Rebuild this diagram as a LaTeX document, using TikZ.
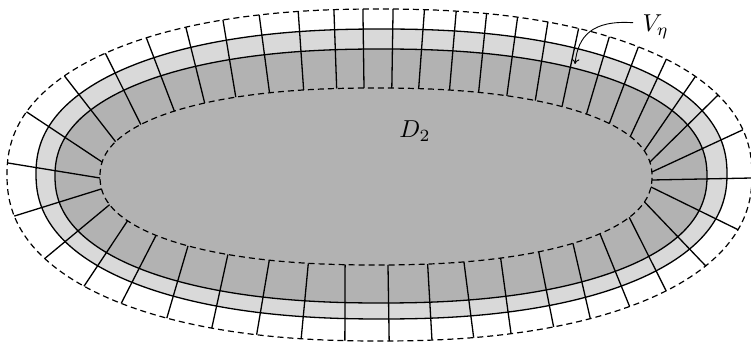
\documentclass[tikz,border=0pt]{standalone}
\usetikzlibrary{arrows.meta}
\newcommand{\myproj}[7]{%
  \pgfmathsetmacro\myU{(#1-#3)/#5}%
  \pgfmathsetmacro\myV{(#2-#4)/#6}%
  \pgfmathsetmacro\myS{exp(-ln(exp(2.25*ln(abs(\myU)+0.0001))+exp(2.25*ln(abs(\myV)+0.0001)))/2.25)}%
  \coordinate (#7) at ({#3+\myS*\myU*#5},{#4+\myS*\myV*#6});%
}
\tikzset{
  sell/.style n args={4}{insert path={plot[variable=\t,domain=0.5:360.5,samples=361]
    ({#1+#3*cos(\t)*exp(-0.1111*ln(abs(cos(\t))))},{#2+#4*sin(\t)*exp(-0.1111*ln(abs(sin(\t))))}) -- cycle}},
  bandline/.style={line width=1.3pt},
  dashline/.style={line width=1.2pt, dash pattern=on 6pt off 4pt},
  ray/.style={line width=1.3pt},
  lbl/.style={scale=2.45, inner sep=0pt},
}
\begin{document}
\begin{tikzpicture}[x=1pt,y=-1pt]
\useasboundingbox (0,0) rectangle (751,344);
% light band (outer solid)
\path[fill=black!15, sell={381.5}{174}{345.5}{145}];
\draw[bandline, sell={381.5}{174}{345.5}{145}];
% dark region (inner solid)
\path[fill=black!30, sell={381}{176}{326}{127}];
\draw[bandline, sell={381}{176}{326}{127}];
% inner dashed
\draw[dashline, sell={376}{176.5}{276}{88.5}];
% outer dashed
\draw[dashline, sell={379.5}{175}{372.5}{166}];
% radial lines
\foreach \ox/\oy/\ix/\iy [count=\k] in {
 33/113/102/162, 68/77/118/142, 107/54/143/125, 145/37/171/110,
 183/25/200/101, 220/17/232/95, 257/12/266/90, 298/11/302/88,
 334/10/336/87, 363/10/364/88, 393/10/392/87, 423/15/418/90,
 453/18/447/93, 481/22/473/97, 509/27/500/100, 538/31/528/104,
 567/37/553/110, 599/43/580/116, 628/52/603/125, 657/63/627/137,
 684/80/642/151, 714/96/651/162, 741/130/652/172, 752/178/652/180,
 740/230/651/187, 706/266/645/202, 664/290/627/217, 623/303/601/234,
 585/315/572/243, 548/322/537/251, 508/330/499/257, 471/333/464/262,
 431/337/427/263, 389/338/388/265, 345/340/345/265, 302/337/307/265,
 258/333/267/262, 213/327/227/255, 167/318/185/247, 120/304/150/237,
 82/287/121/222, 43/259/107/205, 15/216/100/189, 10/163/100/178}{
  \myproj{\ox}{\oy}{379.5}{175}{372.5}{166}{o\k}
  \myproj{\ix}{\iy}{376}{176.5}{276}{88.5}{i\k}
  \draw[ray] (i\k) -- (o\k);
}
% labels
\node[lbl] (d2) at (415,131) {$D_2$};
\node[lbl, anchor=base west] (veta) at (642,31.7) {$V_\eta$};
\coordinate (vtip) at (575,64);
\draw[line width=0.9pt, -{To[length=5pt,width=8pt]}] ([xshift=-9pt,yshift=9pt]veta.base west) .. controls (592,20) and (578,36) .. (vtip);
\end{tikzpicture}
\end{document}
